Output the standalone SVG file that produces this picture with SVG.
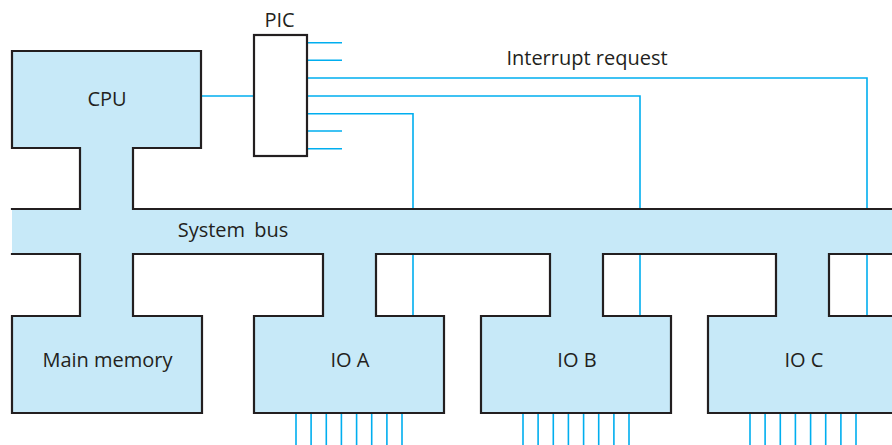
<svg xmlns="http://www.w3.org/2000/svg" width="892" height="445" viewBox="0 0 892 445">
<style>
.fill{fill:#c7e9f8;stroke:none}
.out{fill:none;stroke:#231f20;stroke-width:2.2;stroke-linecap:square;stroke-linejoin:miter}
.wire{fill:none;stroke:#00aeef;stroke-width:1.6}
.lbl{font-family:"Open Sans","Noto Sans",sans-serif;font-size:20px;fill:#231f20;text-anchor:middle}
</style>
<rect width="892" height="445" fill="#ffffff"/>
<g id="connectors">
<path class="wire" d="M201,96 H254"/>
<path class="wire" d="M307,42.7 H342 M307,60.3 H342 M307,131 H342 M307,148.7 H342"/>
<path class="wire" d="M307,78 H867 V209"/>
<path class="wire" d="M307,96 H640 V316"/>
<path class="wire" d="M307,113.7 H413 V316"/>
<path class="wire" d="M867,209 V316"/>
<path class="wire" d="M296,413 V445 M311.1,413 V445 M326.3,413 V445 M341.4,413 V445 M356.6,413 V445 M371.7,413 V445 M386.9,413 V445 M402,413 V445"/>
<path class="wire" d="M523,413 V445 M538.1,413 V445 M553.3,413 V445 M568.4,413 V445 M583.6,413 V445 M598.7,413 V445 M613.9,413 V445 M629,413 V445"/>
<path class="wire" d="M750,413 V445 M765.1,413 V445 M780.3,413 V445 M795.4,413 V445 M810.6,413 V445 M825.7,413 V445 M840.9,413 V445 M856,413 V445"/>
</g>
<g id="bus">
<rect class="fill" x="12" y="210" width="880" height="43"/>
<path class="out" d="M133,209 H892 M133,254 H323 M376,254 H550 M603,254 H776 M829,254 H892"/>
<text class="lbl" x="233" y="237" word-spacing="4">System bus</text>
</g>
<g id="cpu">
<path class="fill" d="M13,52 H200 V147 H132 V212 H81 V147 H13 Z"/>
<path class="out" d="M12,209 H80 V148 H12 V51 H201 V148 H133 V209"/>
<text class="lbl" x="107" y="106">CPU</text>
</g>
<g id="memory">
<path class="fill" d="M81,251 H132 V317 H201 V412 H13 V317 H81 Z"/>
<path class="out" d="M12,254 H80 V316 H12 V413 H202 V316 H133 V254"/>
<text class="lbl" x="107.5" y="367">Main memory</text>
</g>
<g id="ioA">
<path class="fill" d="M324,251 H375 V317 H443 V412 H255 V317 H324 Z"/>
<path class="out" d="M323,254 V316 H254 V413 H444 V316 H376 V254"/>
<text class="lbl" x="350" y="367">IO A</text>
</g>
<g id="ioB">
<path class="fill" d="M551,251 H602 V317 H670 V412 H482 V317 H551 Z"/>
<path class="out" d="M550,254 V316 H481 V413 H671 V316 H603 V254"/>
<text class="lbl" x="577" y="367">IO B</text>
</g>
<g id="ioC">
<path class="fill" d="M777,251 H828 V317 H897 V412 H709 V317 H777 Z"/>
<path class="out" d="M776,254 V316 H708 V413 H898 V316 H829 V254"/>
<text class="lbl" x="804" y="367">IO C</text>
</g>
<g id="pic">
<rect x="254" y="35" width="53" height="121" fill="#ffffff" stroke="#231f20" stroke-width="2.2"/>
<text class="lbl" x="279.5" y="27">PIC</text>
</g>
<g id="interrupt-label">
<text class="lbl" x="587" y="65">Interrupt request</text>
</g>
</svg>
